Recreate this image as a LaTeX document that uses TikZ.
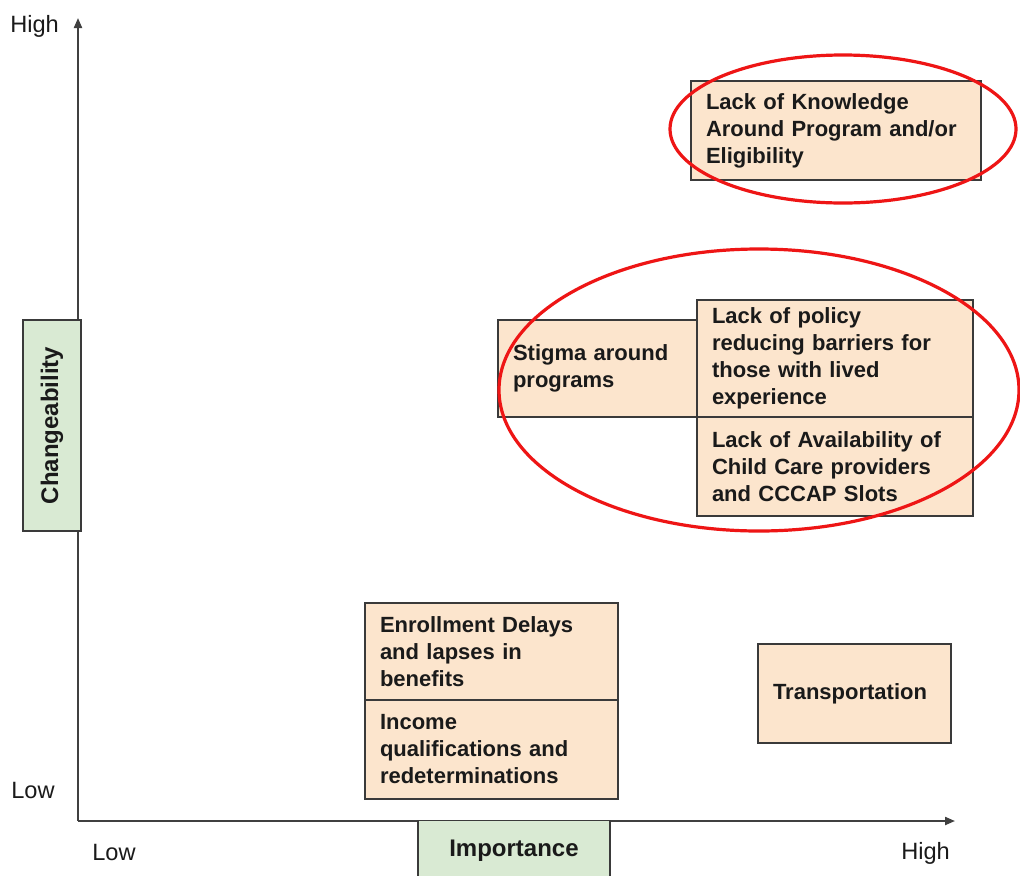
\documentclass[tikz,border=0pt]{standalone}
\usepackage{fontspec}
\setmainfont{Liberation Sans}
\usetikzlibrary{arrows.meta}
\definecolor{peach}{HTML}{FCE5CD}
\definecolor{mint}{HTML}{D9EAD3}
\definecolor{bordergray}{HTML}{3A3A3A}
\definecolor{axisgray}{HTML}{404040}
\definecolor{ringred}{HTML}{EE1515}
\definecolor{txt}{HTML}{1A1A1A}
\newcommand\bxfont{\fontsize{16.5pt}{20.25pt}\selectfont\bfseries}
\newcommand\ttlfont{\fontsize{18pt}{21pt}\selectfont\bfseries}
\newcommand\axfont{\fontsize{17.7pt}{21pt}\selectfont}
\tikzset{
  box/.style={draw=bordergray, line width=1.1pt, fill=peach, text=txt, font=\bxfont,
    align=left, inner xsep=11.25pt, inner ysep=0pt},
  gbox/.style={draw=bordergray, line width=1.1pt, fill=mint, text=txt, font=\ttlfont,
    inner sep=0pt},
  axlab/.style={font=\axfont, text=txt, inner sep=0pt},
  axis/.style={draw=axisgray, line width=1.5pt, -{Triangle[length=7.5pt,width=6pt]}},
  ring/.style={draw=ringred, line width=2.4pt},
}
\begin{document}
\begin{tikzpicture}[x=0.75pt,y=-0.75pt]
\useasboundingbox (0,0) rectangle (1020,875);
\clip (0,0) rectangle (1020,875);
\fill[white] (0,0) rectangle (1020,875);
% axes
\coordinate (O) at (78,821);
\coordinate (ytop) at (78,18);
\coordinate (xend) at (955,821);
\draw[axis] (O) -- (ytop);
\draw[axis] (O) -- (xend);
% axis labels
\node[axlab, anchor=base west] (yhigh) at (10,32) {High};
\node[axlab, anchor=base west] (ylow) at (11,798) {Low};
\node[axlab, anchor=base west] (xlow) at (92,860) {Low};
\node[axlab, anchor=base west] (xhigh) at (901,859) {High};
% axis titles
\node[gbox, rotate=90, minimum width=158.25pt, minimum height=43.5pt] (chg) at (52,425.5) {Changeability};
\node[gbox, minimum width=144pt, minimum height=45pt, anchor=north] (imp) at (514,820) {Importance};
% boxes
\node[box, minimum width=217.5pt, minimum height=74.25pt, text width=195pt] (know) at (836,130.5)
  {Lack of Knowledge\\Around Program and/or\\Eligibility};
\node[box, minimum width=149.25pt, minimum height=72.75pt, text width=126.75pt] (stig) at (597.5,368.5)
  {Stigma around\\programs};
\node[box, minimum width=207pt, minimum height=87.75pt, text width=184.5pt] (pol) at (835,358.5)
  {Lack of policy\\reducing barriers for\\those with lived\\experience};
\node[box, minimum width=207pt, minimum height=74.25pt, text width=184.5pt] (avail) at (835,466.5)
  {Lack of Availability of\\Child Care providers\\and CCCAP Slots};
\node[box, minimum width=189.75pt, minimum height=72.75pt, text width=167.25pt] (enr) at (491.5,651.5)
  {Enrollment Delays\\and lapses in\\benefits};
\node[box, minimum width=189.75pt, minimum height=74.25pt, text width=167.25pt] (inc) at (491.5,749.5)
  {Income\\qualifications and\\redeterminations};
\node[box, minimum width=144.75pt, minimum height=74.25pt, text width=122.25pt] (trans) at (854.5,693.5)
  {Transportation};
% red rings
\draw[ring] (843,129) ellipse [x radius=173, y radius=74];
\draw[ring] (759,390) ellipse [x radius=260, y radius=141];
\end{tikzpicture}
\end{document}
